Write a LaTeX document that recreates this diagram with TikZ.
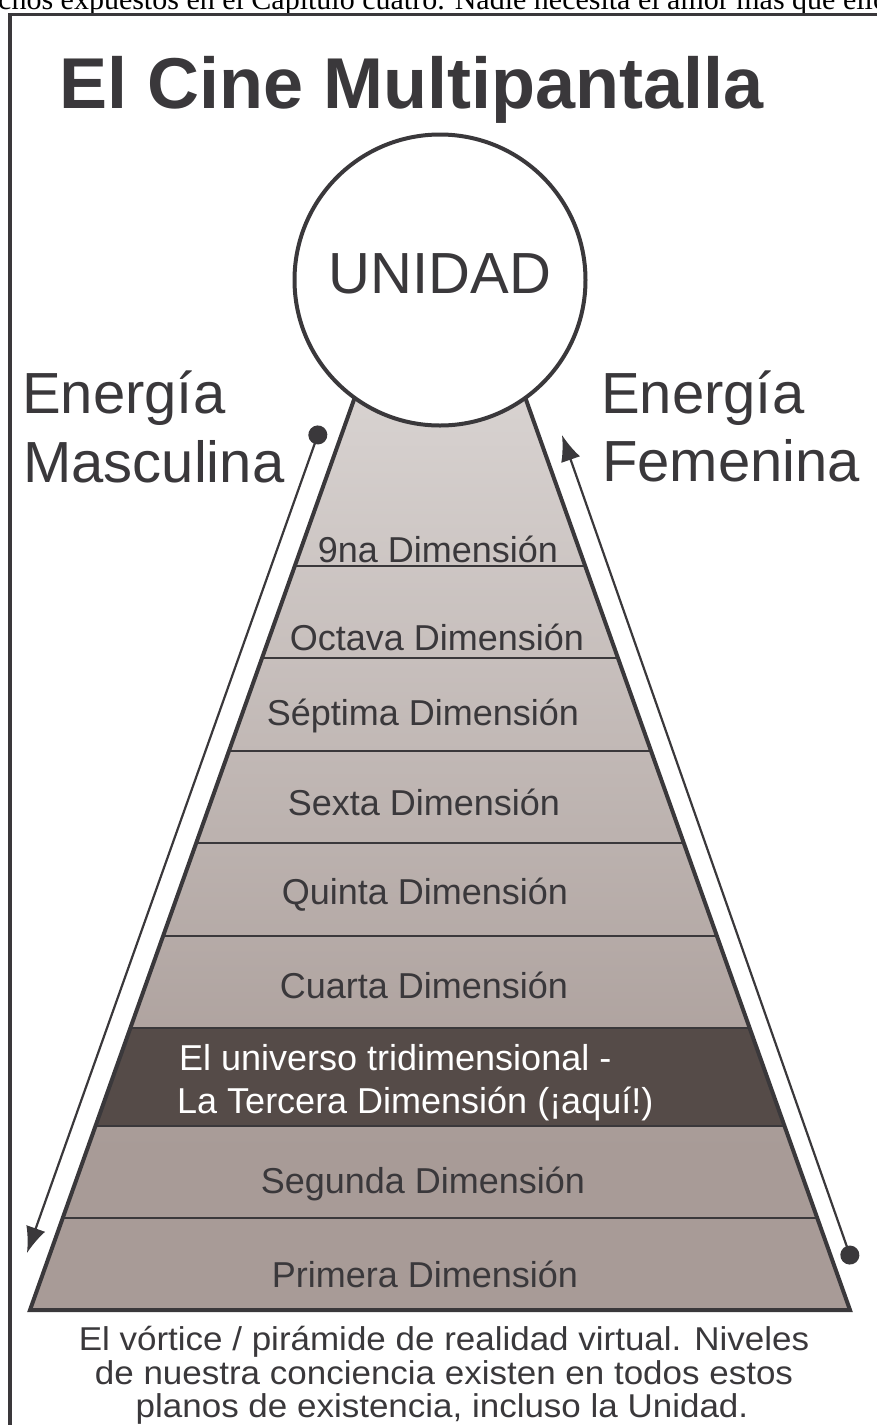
\documentclass[tikz,border=0pt]{standalone}
\usepackage{fontspec}
\setmainfont{Liberation Sans}
\newfontfamily\runinserif{Liberation Serif}
\newfontfamily\captionsans{Liberation Sans}[FakeStretch=1.06]
\usetikzlibrary{arrows.meta}
\definecolor{darkline}{HTML}{3A383B}
\definecolor{pyrbase}{HTML}{A89B97}
\definecolor{pyrtop}{HTML}{EEECEB}
\definecolor{thirdfill}{HTML}{554B48}
\pgfdeclareverticalshading{pyrshade}{100bp}{color(0bp)=(pyrbase); color(32bp)=(pyrbase);
  color(80bp)=(pyrtop); color(100bp)=(pyrtop)}
\tikzset{
  outline/.style={draw=darkline, line width=4pt},
  layerline/.style={draw=darkline, line width=2pt},
  unity/.style={circle, draw=darkline, line width=4pt, fill=white, minimum size=291pt,
                inner sep=0pt, text depth=12pt, text=darkline, font=\fontsize{58}{66}\selectfont},
  dimlabel/.style={anchor=base, inner sep=0pt, text=darkline, font=\fontsize{36}{42}\selectfont},
  thirdlabel/.style={dimlabel, anchor=base west, text=white},
  energy/.style={anchor=base west, inner sep=0pt, text=darkline, font=\fontsize{58}{69}\selectfont},
  caption/.style={anchor=base, inner sep=0pt, text=darkline, font=\captionsans\fontsize{33}{34}\selectfont},
  headline/.style={anchor=base west, inner sep=0pt, text=darkline, font=\bfseries\fontsize{72}{80}\selectfont},
  flow/.style={{Circle[length=19pt]}-{Latex[length=26pt, width=20pt]}, line width=2.2pt, draw=darkline},
  frame/.style={draw=darkline, line width=3.5pt},
}

\begin{document}
\begin{tikzpicture}[x=1pt, y=-1pt]
\useasboundingbox (0,0) rectangle (877,1425);

% Text of the page above the figure
\node[anchor=base west, inner sep=0pt, font=\runinserif\fontsize{30}{30}\selectfont] (runin) at (-2,9)
  {chos expuestos en el Capítulo cuatro. Nadie necesita el amor más que ellos};
\draw[frame] (10,1430) -- (10,14.5) -- (880,14.5);

\node[headline] (title) at (59,108) {El Cine Multipantalla};

% Pyramid and its layers
\coordinate (apex)  at (440,158);
\coordinate (baseL) at (30,1310);
\coordinate (baseR) at (850,1310);
\shade[shading=pyrshade] (apex) -- (baseL) -- (baseR) -- cycle;
\begin{scope}
  \clip (apex) -- (baseL) -- (baseR) -- cycle;
  \fill[thirdfill] (0,1028) rectangle (877,1126);
  \foreach \y in {566,658,751,843,936,1028,1126,1218}
    \draw[layerline] (0,\y) -- (877,\y);
\end{scope}
\draw[outline] (apex) -- (baseL) -- (baseR) -- cycle;

\node[unity] (unidad) at (440,280) {UNIDAD};

\foreach \n/\x/\y/\t in {9/438/562/9na Dimensión, 8/437/650/Octava Dimensión,
    7/423/725/Séptima Dimensión, 6/424/815/Sexta Dimensión, 5/425/904/Quinta Dimensión,
    4/424/998/Cuarta Dimensión, 2/423/1193/Segunda Dimensión, 1/425/1287/Primera Dimensión}
  \node[dimlabel] (dim\n) at (\x,\y) {\t};
\node[thirdlabel] (dim3a) at (179,1070) {El universo tridimensional -};
\node[thirdlabel] (dim3b) at (177,1113) {La Tercera Dimensión (¡aquí!)};

% Energy labels and arrows
\node[energy] (masc1) at (22,413) {Energía};
\node[energy] (masc2) at (23,482) {Masculina};
\node[energy] (fem1) at (601,413) {Energía};
\node[energy] (fem2) at (602,481) {Femenina};

\coordinate (mascdot) at (321,426);
\coordinate (masctip) at (27,1253);
\coordinate (femdot)  at (853,1264);
\coordinate (femtip)  at (562,435);
\draw[flow] (mascdot) -- (masctip);
\draw[flow] (femdot) -- (femtip);

% Caption
\node[caption] (cap1) at (444,1350) {El vórtice / pirámide de realidad virtual. Niveles};
\node[caption] (cap2) at (444,1384) {de nuestra conciencia existen en todos estos};
\node[caption] (cap3) at (442,1417) {planos de existencia, incluso la Unidad.};

\end{tikzpicture}
\end{document}
